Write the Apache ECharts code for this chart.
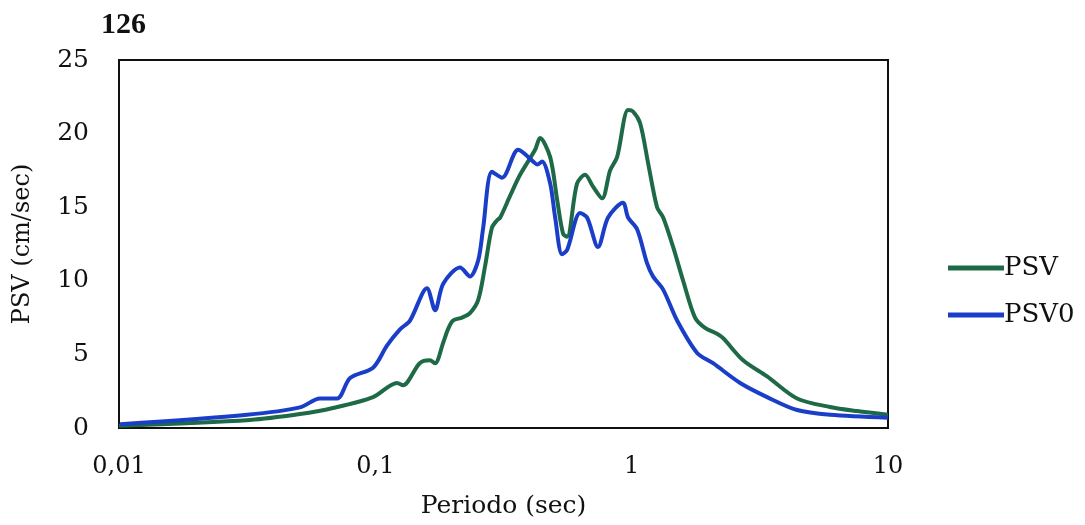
<!DOCTYPE html>
<html>
<head>
<meta charset="UTF-8">
<script src="https://cdn.jsdelivr.net/npm/echarts@6/dist/echarts.min.js"></script>
<title>126</title>
<style>
	body { margin: 0; background: #fff; }
	#main { width: 1085px; height: 525px; }
</style>
</head>
<body>
<div id="main"></div>
<script type="text/javascript">
	// periodo (sec) / PSV (cm/sec)
	var psvPeriod = [0.01, 0.0324, 0.0508, 0.0684, 0.098, 0.1216, 0.1282, 0.149, 0.163, 0.171, 0.184, 0.192, 0.201, 0.218, 0.234, 0.252, 0.268, 0.285, 0.298, 0.307, 0.336, 0.367, 0.42, 0.439, 0.481, 0.512, 0.54, 0.56, 0.612, 0.658, 0.707, 0.767, 0.824, 0.877, 0.968, 1.012, 1.079, 1.159, 1.256, 1.327, 1.451, 1.588, 1.767, 1.933, 2.153, 2.274, 2.721, 3.376, 4.419, 5.94, 7.57, 10];
	var psvValue = [0.15, 0.55, 0.95, 1.36, 2.1, 3.06, 2.9, 4.4, 4.6, 4.4, 5.8, 6.7, 7.3, 7.5, 7.8, 8.7, 11, 13.6, 14.1, 14.3, 15.8, 17.2, 18.9, 19.7, 18.4, 15.5, 13.2, 13.0, 16.6, 17.2, 16.4, 15.6, 17.5, 18.4, 21.6, 21.5, 20.7, 18, 15, 14.3, 12.3, 10, 7.5, 6.8, 6.4, 6.1, 4.6, 3.5, 2.0, 1.43, 1.15, 0.9];

	var psv0Period = [0.0101, 0.0316, 0.0508, 0.0608, 0.0709, 0.0797, 0.098, 0.111, 0.1248, 0.1365, 0.159, 0.171, 0.184, 0.214, 0.234, 0.252, 0.263, 0.285, 0.312, 0.361, 0.413, 0.428, 0.447, 0.481, 0.503, 0.535, 0.56, 0.629, 0.67, 0.739, 0.809, 0.925, 0.968, 1.05, 1.148, 1.211, 1.327, 1.504, 1.8, 2.078, 2.65, 3.376, 4.419, 5.94, 10];
	var psv0Value = [0.25, 0.9, 1.4, 2.0, 2.0, 3.4, 4.1, 5.6, 6.7, 7.3, 9.5, 8.0, 9.8, 10.9, 10.3, 11.4, 13.5, 17.4, 17.0, 18.9, 18.1, 17.9, 18.1, 16.6, 14.3, 11.8, 12.1, 14.6, 14.3, 12.3, 14.3, 15.3, 14.3, 13.5, 11.2, 10.3, 9.4, 7.3, 5.1, 4.4, 3.06, 2.1, 1.22, 0.9, 0.7];

	var xTicks = [0.01, 0.1, 1, 10];
	var yTicks = [0, 5, 10, 15, 20, 25];

	function pairs(xs, ys) {
		var out = [];
		for (var i = 0; i < xs.length; i++) {
			out.push([xs[i], ys[i]]);
		}
		return out;
	}

	var font = '"DejaVu Serif", "Liberation Serif", serif';
	var myChart = echarts.init(document.getElementById('main'));

	myChart.setOption({
		backgroundColor: '#fff',
		textStyle: { fontFamily: font },
		title: {
			text: '126',
			left: 96,
			top: 5,
			textStyle: { fontFamily: '"Liberation Serif", serif', fontSize: 30, fontWeight: 'bold', color: '#111' }
		},
		legend: {
			orient: 'vertical',
			left: 943,
			top: 250,
			itemGap: 21,
			itemWidth: 56,
			itemHeight: 5,
			icon: 'rect',
			textStyle: { fontFamily: font, fontSize: 26, color: '#111', padding: [0, 0, 0, -5] },
			data: ['PSV', 'PSV0']
		},
		grid: {
			left: 119,
			right: 197,
			top: 60,
			bottom: 97,
			show: true,
			borderColor: '#111',
			borderWidth: 2
		},
		xAxis: {
			type: 'log',
			logBase: 10,
			min: xTicks[0],
			max: xTicks[xTicks.length - 1],
			name: 'Periodo (sec)',
			nameLocation: 'middle',
			nameGap: 66,
			nameTextStyle: { fontFamily: font, fontSize: 25, color: '#111' },
			axisLine: { lineStyle: { color: '#111', width: 2 } },
			axisTick: { show: false },
			splitLine: { show: false },
			axisLabel: {
				fontFamily: font,
				fontSize: 24,
				color: '#111',
				margin: 27,
				formatter: function (v) { return String(v).replace('.', ','); }
			}
		},
		yAxis: {
			type: 'value',
			min: yTicks[0],
			max: yTicks[yTicks.length - 1],
			interval: 5,
			name: 'PSV (cm/sec)',
			nameLocation: 'middle',
			nameGap: 84,
			nameTextStyle: { fontFamily: font, fontSize: 24, color: '#111' },
			axisLine: { show: true, lineStyle: { color: '#111', width: 2 } },
			axisTick: { show: false },
			splitLine: { show: false },
			axisLabel: { fontFamily: font, fontSize: 25, color: '#111', margin: 30 }
		},
		series: [
			{
				name: 'PSV',
				type: 'line',
				data: pairs(psvPeriod, psvValue),
				smooth: 0.3,
				showSymbol: false,
				color: '#1e6a47',
				lineStyle: { width: 4, color: '#1e6a47' }
			},
			{
				name: 'PSV0',
				type: 'line',
				data: pairs(psv0Period, psv0Value),
				smooth: 0.3,
				showSymbol: false,
				color: '#1b3ec9',
				lineStyle: { width: 4, color: '#1b3ec9' }
			}
		]
	});
</script>
</body>
</html>
